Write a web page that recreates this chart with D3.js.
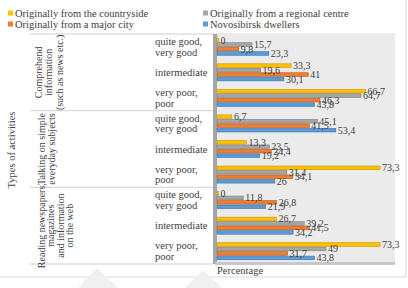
<!DOCTYPE html>
<html>
<head>
<meta charset="utf-8">
<title></title>
<style>
  body { margin: 0; background: #fff; }
  #chart svg text { font-family: "Liberation Serif", "Times New Roman", serif; fill: #404040; }
</style>
</head>
<body>
<div id="chart"></div>
<script src="https://d3js.org/d3.v7.min.js"></script>
<script>
// data
const series = ["Originally from the countryside", "Originally from a regional centre",
                "Originally from a major city", "Novosibirsk dwellers"]
const colors = ["#FFC000", "#A5A5A5", "#ED7D31", "#5B9BD5"]
const edges = ["#C99700", "#7F7F7F", "#B85F22", "#3F77AC"]

const groups = [["Comprehend", "information", "(such as news etc.)"],
                ["Talking on simple", "everyday subjects"],
                ["Reading newspapers,", "magazines", "and information", "on the web"]]
const levels = [["quite good,", "very good"], ["intermediate"], ["very poor,", "poor"]]

// one row per group x level, values in series order
const comprehend = [[0, 15.7, 9.8, 23.3], [33.3, 19.6, 41, 30.1], [66.7, 64.7, 46.3, 43.8]]
const talking = [[6.7, 45.1, 41.5, 53.4], [13.3, 23.5, 24.4, 19.2], [73.3, 31.4, 34.1, 26]]
const reading = [[0, 11.8, 26.8, 21.9], [26.7, 39.2, 41.5, 34.2], [73.3, 49, 31.7, 43.8]]

const W = 408, H = 288
const svg = d3.select("#chart").append("svg").attr("width", W).attr("height", H)

// outer frame (right and bottom visible)
svg.append("rect").attr("x", -2).attr("y", -2).attr("width", 408).attr("height", 279)
  .attr("fill", "none").attr("stroke", "#D9D9D9")

// faint watermark shapes
svg.append("path").attr("d", "M78,288 L97,268 L118,288 Z").attr("fill", "#F0F0F0")
svg.append("path").attr("d", "M185,288 L203,270 L222,288 Z").attr("fill", "#F0F0F0")

// legend
const leg = svg.append("g")
series.forEach((s, i) => {
  const lx = i % 2 ? 203 : 8, ly = i < 2 ? 13 : 24
  leg.append("rect").attr("x", lx).attr("y", ly - 2.5).attr("width", 5).attr("height", 5).attr("fill", colors[i])
  leg.append("text").attr("x", lx + 7).attr("y", ly + 3.5).attr("font-size", 10.5).text(s)
})

const rows = []
;[comprehend, talking, reading].forEach((g, gi) => g.forEach((vals, li) => rows.push({ gi, li, vals })))

const x = d3.scaleLinear().domain([0, 80]).range([217, 395])
const y = d3.scaleBand().domain(d3.range(rows.length)).range([34, 264])
const yi = d3.scaleBand().domain(d3.range(series.length)).range([0, y.bandwidth()])
  .paddingInner(0.18).paddingOuter(0.95)

// plot background, wall and floor
svg.append("rect").attr("x", 215).attr("y", 33).attr("width", x(80) - 215).attr("height", 231).attr("fill", "#EBEBEB")
svg.append("rect").attr("x", 213).attr("y", 34).attr("width", 4).attr("height", 230).attr("fill", "#A6A6A6")
svg.append("rect").attr("x", 215).attr("y", 262).attr("width", x(80) - 215).attr("height", 3).attr("fill", "#C8C8C8")

// table lines
const gh = y.bandwidth() * 3
;[0, 1, 2, 3].forEach(k => {
  svg.append("line").attr("x1", 30).attr("x2", 213)
    .attr("y1", 34 + k * gh).attr("y2", 34 + k * gh)
    .attr("stroke", "#D0D0D0").attr("stroke-width", 1)
})

// group labels (rotated), baseline centre per group
const groupX = [52, 50, 59]
groups.forEach((lines, gi) => {
  const cy = 34 + gi * gh + gh / 2
  const n = lines.length, cx = groupX[gi], step = n > 3 ? 9.5 : 10.5
  lines.forEach((t, k) => {
    svg.append("text")
      .attr("transform", `translate(${cx + (k - (n - 1) / 2) * step},${cy}) rotate(-90)`)
      .attr("text-anchor", "middle").attr("font-size", 10).text(t)
  })
})
svg.append("text").attr("transform", `translate(15,150) rotate(-90)`)
  .attr("text-anchor", "middle").attr("font-size", 10.5).text("Types of activities")

// level labels
rows.forEach((r, i) => {
  const lines = levels[r.li]
  const cy = y(i) + y.bandwidth() / 2
  lines.forEach((t, k) => {
    svg.append("text").attr("x", 155)
      .attr("y", cy + (k - (lines.length - 1) / 2) * 10.5 + 3.5)
      .attr("font-size", 10.5).text(t)
  })
})

// bars
const fmt = v => String(v).replace(".", ",")
const rowG = svg.append("g").selectAll("g").data(rows).join("g")
  .attr("transform", (d, i) => `translate(0,${y(i)})`)

rowG.selectAll("rect").data(d => d.vals.map((v, s) => ({ v, s }))).join("rect")
  .attr("x", x(0)).attr("y", d => yi(d.s))
  .attr("width", d => Math.max(x(d.v) - x(0), 1.5))
  .attr("height", yi.bandwidth())
  .attr("fill", d => colors[d.s]).attr("stroke", d => edges[d.s]).attr("stroke-width", 0.6)

rowG.selectAll("text").data(d => d.vals.map((v, s) => ({ v, s }))).join("text")
  .attr("x", d => Math.max(x(d.v), x(0) + 1.5) + 2)
  .attr("y", d => yi(d.s) + yi.bandwidth() / 2 + 3.5)
  .attr("font-size", 10).text(d => fmt(d.v))

// axis title
svg.append("text").attr("x", 217).attr("y", 274).attr("font-size", 10.5).text("Percentage")

svg.selectAll("text").style("font-family", "'Liberation Serif'")
</script>
</body>
</html>
